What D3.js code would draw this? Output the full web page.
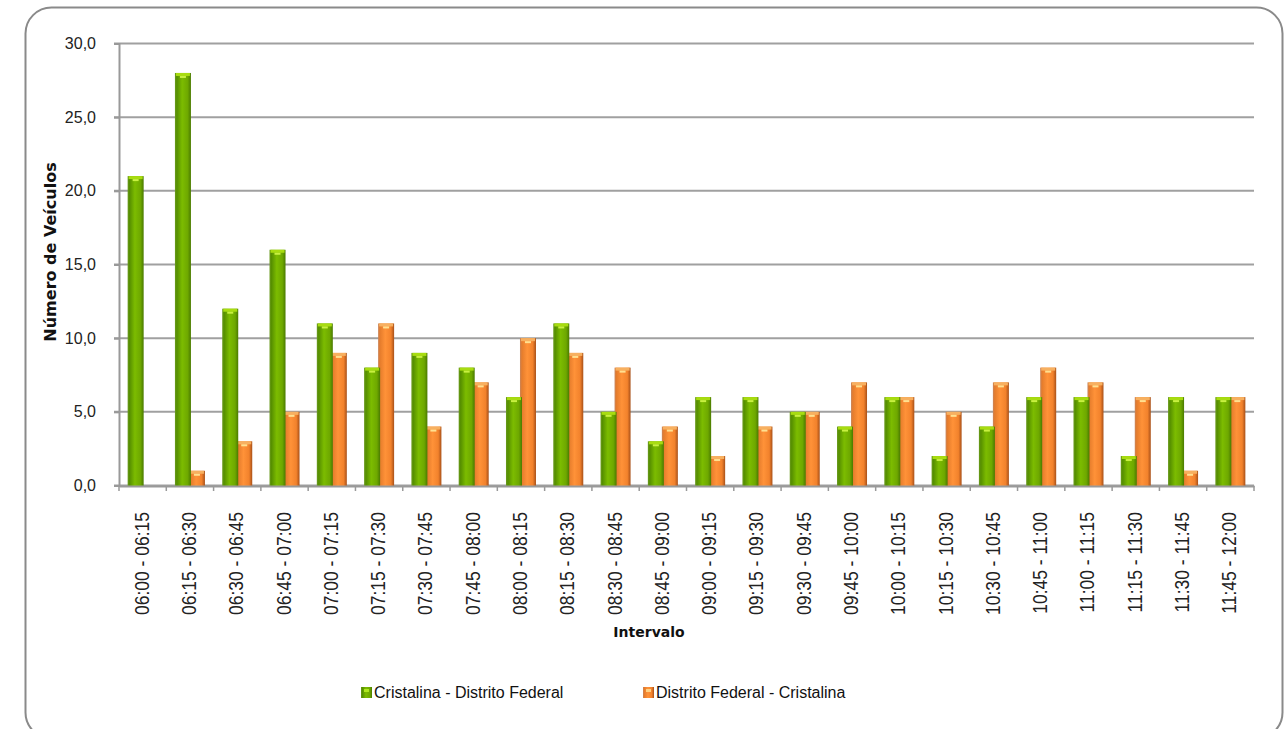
<!DOCTYPE html>
<html><head><meta charset="utf-8">
<script src="https://cdn.jsdelivr.net/npm/d3@7"></script>
<style>body{margin:0;background:#fff}svg{display:block}</style>
</head><body>
<svg id="c" width="1287" height="729"></svg>
<script>
const categories = ["06:00 - 06:15","06:15 - 06:30","06:30 - 06:45","06:45 - 07:00","07:00 - 07:15","07:15 - 07:30","07:30 - 07:45","07:45 - 08:00","08:00 - 08:15","08:15 - 08:30","08:30 - 08:45","08:45 - 09:00","09:00 - 09:15","09:15 - 09:30","09:30 - 09:45","09:45 - 10:00","10:00 - 10:15","10:15 - 10:30","10:30 - 10:45","10:45 - 11:00","11:00 - 11:15","11:15 - 11:30","11:30 - 11:45","11:45 - 12:00"];
const cristalinaDF = [21,28,12,16,11,8,9,8,6,11,5,3,6,6,5,4,6,2,4,6,6,2,6,6];
const dfCristalina = [0,1,3,5,9,11,4,7,10,9,8,4,2,4,5,7,6,5,7,8,7,6,1,6];
const seriesNames = ["Cristalina - Distrito Federal","Distrito Federal - Cristalina"];
const yTicks = [0,5,10,15,20,25,30];

const svg = d3.select("#c");
const defs = svg.append("defs");
function grad(id, stops){
  const g = defs.append("linearGradient").attr("id",id).attr("x1","0").attr("x2","1").attr("y1","0").attr("y2","0");
  stops.forEach(s=>g.append("stop").attr("offset",s[0]).attr("stop-color",s[1]));
}
grad("gG",[[0,"#6a9a1e"],[0.12,"#568f00"],[0.45,"#7cbc00"],[0.8,"#6ea800"],[1,"#4a7a00"]]);
grad("gO",[[0,"#c8845a"],[0.12,"#e57c2c"],[0.45,"#ff9238"],[0.8,"#f2822c"],[1,"#a85018"]]);

// frame
svg.append("rect").attr("x",25.5).attr("y",7.5).attr("width",1257).attr("height",731)
  .attr("rx",26).attr("fill","#fff").attr("stroke","#8a8a8a").attr("stroke-width",2);

const x = d3.scaleBand().domain(categories).range([119,1254]).padding(0);
const y = d3.scaleLinear().domain([0,30]).range([485.5,43.5]);

// gridlines
svg.append("g").selectAll("line").data(yTicks).join("line")
  .attr("x1",114).attr("x2",1254).attr("y1",d=>y(d)).attr("y2",d=>y(d))
  .attr("stroke","#a0a0a0").attr("stroke-width",2);

// y axis
const yAxis = svg.append("g").attr("transform","translate(119,0)")
  .call(d3.axisLeft(y).tickValues(yTicks).tickSize(5).tickFormat(d=>d3.format(".1f")(d).replace(".",",")));
yAxis.select(".domain").attr("stroke","#999").attr("stroke-width",2);
yAxis.selectAll(".tick line").attr("stroke","#999").attr("stroke-width",2);
yAxis.selectAll("text").attr("font-family","Liberation Sans, Arial, sans-serif").attr("font-size",16).attr("fill","#222").attr("x",-23);

// x axis
const xAxis = svg.append("g").attr("transform","translate(0,486)")
  .call(d3.axisBottom(x).tickSize(5).tickSizeOuter(0).tickFormat(""));
xAxis.select(".domain").attr("stroke","#999").attr("stroke-width",2);
xAxis.selectAll(".tick line").attr("stroke","#999").attr("stroke-width",1.5)
  .attr("transform",`translate(${-x.bandwidth()/2},0)`);
svg.append("line").attr("x1",1254).attr("x2",1254).attr("y1",486).attr("y2",491).attr("stroke","#999").attr("stroke-width",1.5);

// x labels
svg.append("g").selectAll("text").data(categories).join("text")
  .attr("transform",d=>`translate(${x(d)+x.bandwidth()/2+6},512) rotate(-90) scale(1,1.15)`)
  .attr("text-anchor","end")
  .attr("font-family","Liberation Sans, Arial, sans-serif").attr("font-size",17.5).attr("fill","#222")
  .text(d=>d);

const bw = 16;
function drawBars(vals, fill, cap, dx){
  const g = svg.append("g");
  vals.forEach((v,i)=>{
    if(v<=0) return;
    const cx = x(categories[i]) + x.bandwidth()/2 + dx;
    g.append("rect").attr("x",cx).attr("y",y(v)).attr("width",bw).attr("height",y(0)-y(v)).attr("fill",`url(#${fill})`);
    g.append("rect").attr("x",cx+1).attr("y",y(v)).attr("width",bw-2).attr("height",3).attr("fill",cap[0]);
    g.append("rect").attr("x",cx+bw/2-3).attr("y",y(v)+3).attr("width",6).attr("height",2).attr("fill",cap[1]);
  });
}
drawBars(dfCristalina,"gO",["#f7b060","#ffe090"],-1);
drawBars(cristalinaDF,"gG",["#a8dc10","#c8f040"],-15);

// axis titles
svg.append("text").attr("transform","translate(56,252) rotate(-90)").attr("text-anchor","middle")
  .attr("font-family","DejaVu Sans, sans-serif").attr("font-weight","bold").attr("font-size",16).attr("fill","#111")
  .text("Número de Veículos");
svg.append("text").attr("x",649).attr("y",637).attr("text-anchor","middle")
  .attr("font-family","DejaVu Sans, sans-serif").attr("font-weight","bold").attr("font-size",14).attr("fill","#111")
  .text("Intervalo");

// legend
const leg = [[361,"gG",seriesNames[0]],[643,"gO",seriesNames[1]]];
leg.forEach(l=>{
  svg.append("rect").attr("x",l[0]).attr("y",687).attr("width",11).attr("height",11).attr("fill",`url(#${l[1]})`);
  svg.append("rect").attr("x",l[0]+3).attr("y",689).attr("width",5).attr("height",3).attr("fill",l[1]==="gG"?"#b0e820":"#ffd080");
  svg.append("text").attr("x",l[0]+13).attr("y",698).attr("font-family","Liberation Sans, Arial, sans-serif")
    .attr("font-size",16).attr("fill","#111").text(l[2]);
});
</script>
</body></html>
